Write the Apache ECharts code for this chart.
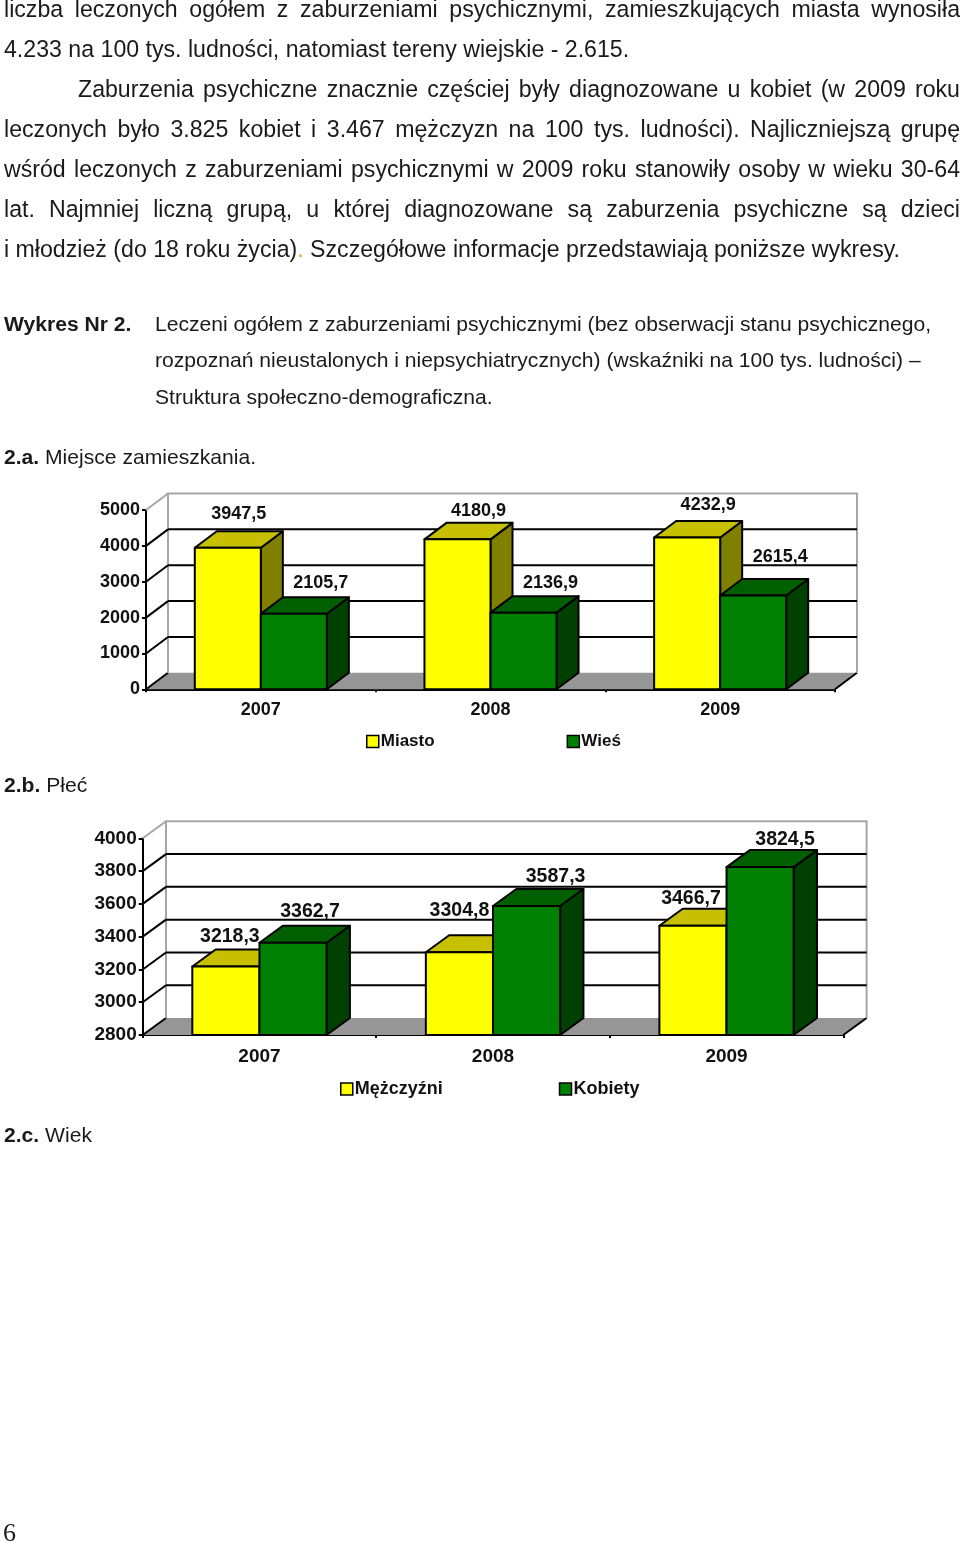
<!DOCTYPE html>
<html lang="pl">
<head>
<meta charset="utf-8">
<title>Wykres Nr 2</title>
<script src="https://cdn.jsdelivr.net/npm/echarts@6/dist/echarts.min.js"></script>
<style>
html,body{margin:0;padding:0;background:#fff;}
#page{position:relative;width:960px;height:1543px;overflow:hidden;font-family:"Liberation Sans",Arial,sans-serif;color:#1a1a1a;}
#chart{position:absolute;left:0;top:0;width:960px;height:1543px;}
.l{position:absolute;white-space:nowrap;font-size:23.15px;line-height:24px;}
.j{left:4px;width:956px;white-space:normal;text-align:justify;text-align-last:justify;}
.s{font-size:21.1px;}
.o{color:#e0a030;}
</style>
</head>
<body>
<div id="page">
<div id="chart"></div>
<div class="l j" style="top:-3px">liczba leczonych ogółem z zaburzeniami psychicznymi, zamieszkujących miasta wynosiła</div>
<div class="l" style="left:4px;top:37px">4.233 na 100 tys. ludności, natomiast tereny wiejskie - 2.615.</div>
<div class="l j" style="left:78px;width:882px;top:77px">Zaburzenia psychiczne znacznie częściej były diagnozowane u kobiet (w 2009 roku</div>
<div class="l j" style="top:117px">leczonych było 3.825 kobiet i 3.467 mężczyzn na 100 tys. ludności). Najliczniejszą grupę</div>
<div class="l j" style="top:157px">wśród leczonych z zaburzeniami psychicznymi w 2009 roku stanowiły osoby w wieku 30-64</div>
<div class="l j" style="top:197px">lat. Najmniej liczną grupą, u której diagnozowane są zaburzenia psychiczne są dzieci</div>
<div class="l" style="left:4px;top:237px">i młodzież (do 18 roku życia)<span class="o">.</span> Szczegółowe informacje przedstawiają poniższe wykresy.</div>
<div class="l s" style="left:4px;top:312px"><b>Wykres Nr 2.</b></div>
<div class="l s" style="left:155px;top:312px">Leczeni ogółem z zaburzeniami psychicznymi (bez obserwacji stanu psychicznego,</div>
<div class="l s" style="left:155px;top:348px">rozpoznań nieustalonych i niepsychiatrycznych) (wskaźniki na 100 tys. ludności) –</div>
<div class="l s" style="left:155px;top:385px">Struktura społeczno-demograficzna.</div>
<div class="l s" style="left:4px;top:445px"><b>2.a.</b> Miejsce zamieszkania.</div>
<div class="l s" style="left:4px;top:773px"><b>2.b.</b> Płeć</div>
<div class="l s" style="left:4px;top:1123px"><b>2.c.</b> Wiek</div>
<div class="l" style="left:3px;top:1521px;font-family:'Liberation Serif',serif;font-size:26px">6</div>
</div>
<script>
var years = ['2007', '2008', '2009'];

var miastoNames = ['Miasto', 'Wieś'];
var miasto = [3947.5, 4180.9, 4232.9];
var wies = [2105.7, 2136.9, 2615.4];

var plecNames = ['Mężczyźni', 'Kobiety'];
var mezczyzni = [3218.3, 3304.8, 3466.7];
var kobiety = [3362.7, 3587.3, 3824.5];

var ticksA = [0, 1000, 2000, 3000, 4000, 5000];
var ticksB = [2800, 3000, 3200, 3400, 3600, 3800, 4000];

var YEL = { front: '#ffff00', top: '#c6c000', side: '#808000' };
var GRN = { front: '#008000', top: '#006000', side: '#004000' };

// label nudges relative to the centre of each bar's front top edge (layout only)
var nudgeA = [
  [[11, -34], [21, -28], [21, -32]],
  [[27, -31], [27, -30], [27, -38]]
];
var nudgeB = [
  [[4, -30], [0, -42], [-2, -27]],
  [[17, -31], [29, -29], [25, -27]]
];

var fmt = function (v) { return v.toFixed(1).replace('.', ','); };

function wallSeries(idx, ticks, d) {
  return {
    type: 'custom', xAxisIndex: idx, yAxisIndex: idx, silent: true, clip: false, z: 1,
    data: ticks.map(function (t) { return [0, t]; }),
    encode: { x: 0, y: 1 },
    renderItem: function (p, api) {
      var v = api.value(1);
      var band = api.size([1, 0])[0];
      var c = api.coord([0, v]);
      var x0 = c[0] - band / 2, x1 = x0 + band * 3, y = c[1];
      var last = p.dataIndex === ticks.length - 1, first = p.dataIndex === 0;
      var kids = [];
      if (first) {
        kids.push({ type: 'polygon', shape: { points: [[x0, y], [x0 + d[0], y - d[1]], [x1 + d[0], y - d[1]], [x1, y]] }, style: { fill: '#969696' } });
        kids.push({ type: 'line', shape: { x1: x1, y1: y, x2: x1 + d[0], y2: y - d[1] }, style: { stroke: '#000', lineWidth: 2 } });
        kids.push({ type: 'line', shape: { x1: x0, y1: y, x2: x0 + d[0], y2: y - d[1] }, style: { stroke: '#000', lineWidth: 2 } });
        var topY = api.coord([0, ticks[ticks.length - 1]])[1] - d[1];
        kids.push({ type: 'polyline', shape: { points: [[x0 + d[0], y - d[1]], [x0 + d[0], topY], [x1 + d[0], topY], [x1 + d[0], y - d[1]]] }, style: { fill: 'none', stroke: '#a6a6a6', lineWidth: 2 } });
      } else if (last) {
        kids.push({ type: 'line', shape: { x1: x0, y1: y, x2: x0 + d[0], y2: y - d[1] }, style: { stroke: '#a6a6a6', lineWidth: 2 } });
      } else {
        kids.push({ type: 'line', shape: { x1: x0, y1: y, x2: x0 + d[0], y2: y - d[1] }, style: { stroke: '#000', lineWidth: 2 } });
        kids.push({ type: 'line', shape: { x1: x0 + d[0], y1: y - d[1], x2: x1 + d[0], y2: y - d[1] }, style: { stroke: '#000', lineWidth: 2 } });
      }
      return { type: 'group', children: kids };
    }
  };
}

function barSeries(idx, name, values, col, slot, d, fs, nudge) {
  return {
    name: name, type: 'custom', xAxisIndex: idx, yAxisIndex: idx, clip: false, z: 3 + slot,
    itemStyle: { color: col.front },
    data: values.map(function (v, i) { return [i, v]; }),
    encode: { x: 0, y: 1 },
    renderItem: function (p, api) {
      var i = api.value(0), v = api.value(1);
      var c = api.coord([i, v]);
      var bottom = p.coordSys.y + p.coordSys.height;
      var band = api.size([1, 0])[0];
      var w = band * 0.2875;
      var xl = c[0] - w + slot * w, xr = xl + w, yt = c[1];
      var bs = { stroke: '#000', lineWidth: 2, lineJoin: 'round' };
      var n = nudge[slot][i];
      return {
        type: 'group',
        children: [
          { type: 'polygon', shape: { points: [[xr, yt], [xr + d[0], yt - d[1]], [xr + d[0], bottom - d[1]], [xr, bottom]] }, style: Object.assign({ fill: col.side }, bs) },
          { type: 'polygon', shape: { points: [[xl, yt], [xl + d[0], yt - d[1]], [xr + d[0], yt - d[1]], [xr, yt]] }, style: Object.assign({ fill: col.top }, bs) },
          { type: 'rect', shape: { x: xl, y: yt, width: w, height: bottom - yt }, style: Object.assign({ fill: col.front }, bs) },
          { type: 'text', z2: 50, style: { x: xl + w / 2 + n[0], y: yt + n[1], text: fmt(v), align: 'center', verticalAlign: 'middle', fill: '#111', font: 'bold ' + fs + 'px "Liberation Sans",Arial,sans-serif' } }
        ]
      };
    }
  };
}

function xAxisOf(idx, fs) {
  return {
    type: 'category', gridIndex: idx, data: years, boundaryGap: true,
    axisLine: { show: true, onZero: false, lineStyle: { color: '#000', width: 2 } },
    axisTick: { show: true, length: 3, lineStyle: { color: '#000', width: 2 } },
    axisLabel: { color: '#111', fontWeight: 'bold', fontSize: fs, fontFamily: 'Liberation Sans', margin: 12 },
    splitLine: { show: false }
  };
}
function yAxisOf(idx, ticks, fs, margin) {
  return {
    type: 'value', gridIndex: idx, min: ticks[0], max: ticks[ticks.length - 1], interval: ticks[1] - ticks[0],
    axisLine: { show: true, onZero: false, lineStyle: { color: '#000', width: 2 } },
    axisTick: { show: true, length: 4, lineStyle: { color: '#000', width: 2 } },
    axisLabel: { color: '#111', fontWeight: 'bold', fontSize: fs, fontFamily: 'Liberation Sans', margin: margin, formatter: function (v) { return String(v); } },
    splitLine: { show: false }
  };
}
function legendOf(names, left, top, gap, fs) {
  return {
    data: names, left: left, top: top, orient: 'horizontal', itemWidth: 12, itemHeight: 12, itemGap: gap,
    icon: 'rect', selectedMode: false, padding: 0,
    itemStyle: { borderColor: '#000', borderWidth: 1.5 },
    textStyle: { color: '#111', fontWeight: 'bold', fontSize: fs, fontFamily: 'Liberation Sans', padding: [0, 0, 0, -3] }
  };
}

var dA = [22, 16.5], dB = [23.3, 17];

var chart = echarts.init(document.getElementById('chart'), null, { renderer: 'canvas' });
chart.setOption({
  animation: false,
  backgroundColor: 'transparent',
  grid: [
    { left: 146, top: 510, width: 689, height: 179.3 },
    { left: 142.7, top: 838.3, width: 700.6, height: 196.7 }
  ],
  xAxis: [xAxisOf(0, 18), xAxisOf(1, 19)],
  yAxis: [yAxisOf(0, ticksA, 18, 6), yAxisOf(1, ticksB, 19, 6)],
  legend: [
    legendOf(miastoNames, 366, 733, 132, 17),
    legendOf(plecNames, 340, 1080, 116, 18)
  ],
  series: [
    wallSeries(0, ticksA, dA),
    barSeries(0, miastoNames[0], miasto, YEL, 0, dA, 18, nudgeA),
    barSeries(0, miastoNames[1], wies, GRN, 1, dA, 18, nudgeA),
    wallSeries(1, ticksB, dB),
    barSeries(1, plecNames[0], mezczyzni, YEL, 0, dB, 19.5, nudgeB),
    barSeries(1, plecNames[1], kobiety, GRN, 1, dB, 19.5, nudgeB)
  ]
});
</script>
</body>
</html>
